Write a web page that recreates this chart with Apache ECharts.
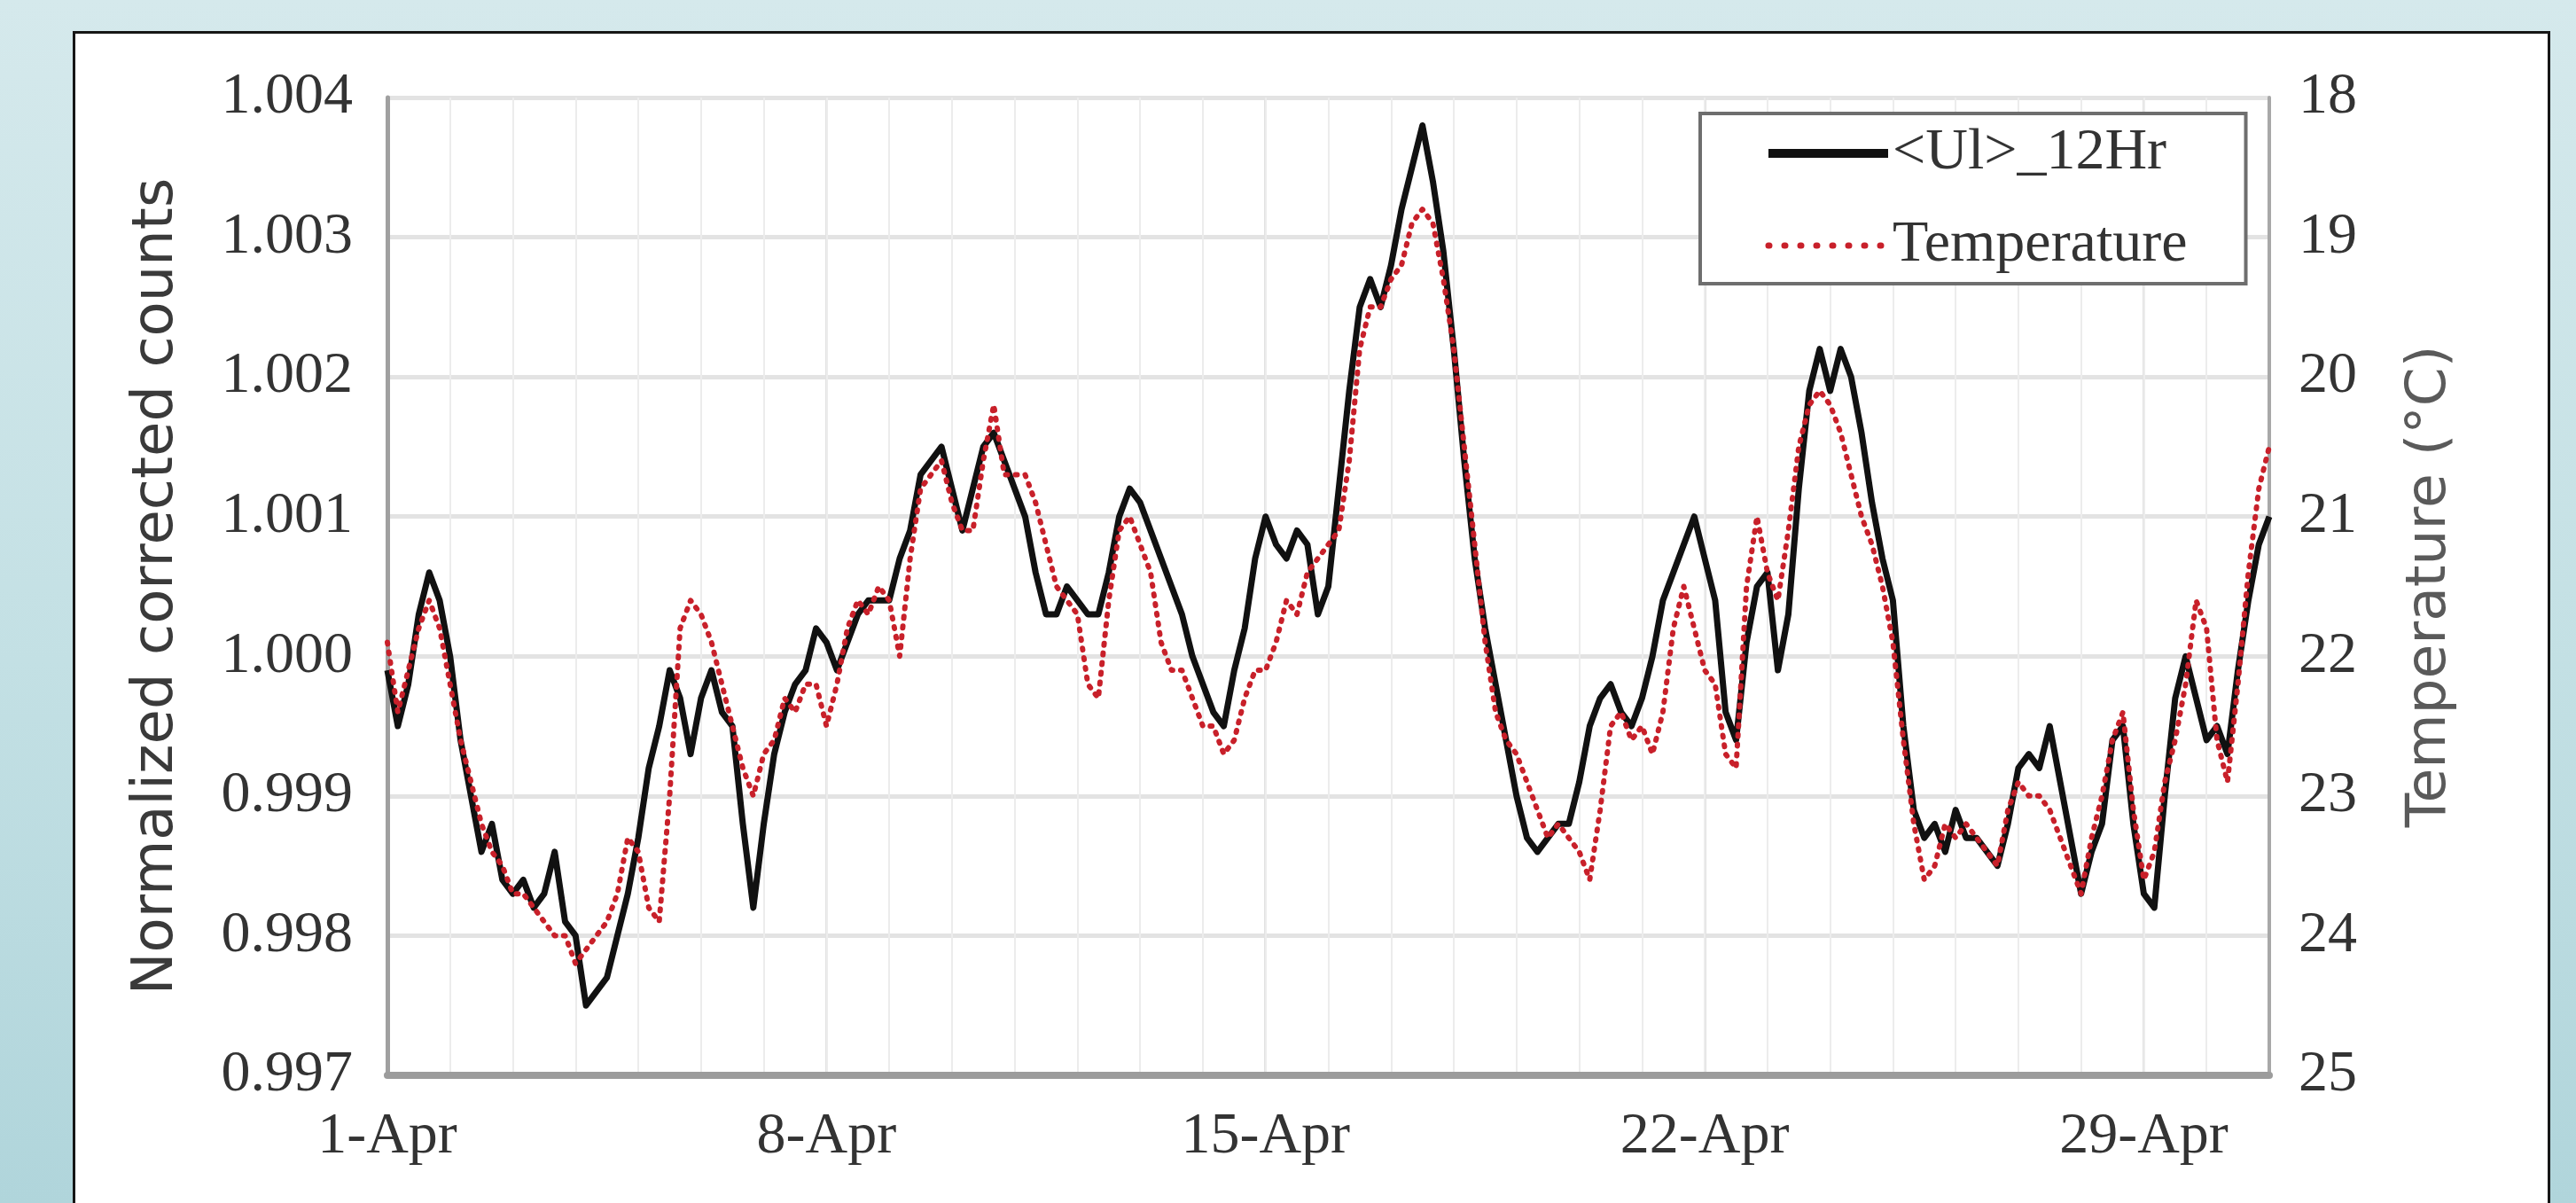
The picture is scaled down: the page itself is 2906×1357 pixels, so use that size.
<!DOCTYPE html>
<html>
<head>
<meta charset="utf-8">
<title>Normalized corrected counts and temperature, April</title>
<script src="https://cdn.jsdelivr.net/npm/echarts@6/dist/echarts.min.js"></script>
<style>
  html, body { margin: 0; padding: 0; width: 2906px; height: 1357px; overflow: hidden; }
  body { background: linear-gradient(180deg, #d5e9ec 0%, #c3e0e4 55%, #b0d5db 100%); position: relative; }
  #panel { position: absolute; left: 82px; top: 35px; width: 2789px; height: 1400px;
           background: #ffffff; border: 3px solid #161616; }
  #chart { position: absolute; left: 0; top: 0; width: 2906px; height: 1357px; }
</style>
</head>
<body>
<div id="panel"></div>
<div id="chart"></div>
<script>
// Samples every 4 hours starting 1 April 00:00
const stepHours = 4;

// 12-hour running mean of normalized corrected counts
const countsU = [
  0.9999, 0.9995, 0.9998, 1.0003, 1.0006, 1.0004, 1.0000, 0.9994, 0.9990, 0.9986,
  0.9988, 0.9984, 0.9983, 0.9984, 0.9982, 0.9983, 0.9986, 0.9981, 0.9980, 0.9975,
  0.9976, 0.9977, 0.9980, 0.9983, 0.9987, 0.9992, 0.9995, 0.9999, 0.9997, 0.9993,
  0.9997, 0.9999, 0.9996, 0.9995, 0.9988, 0.9982, 0.9988, 0.9993, 0.9996, 0.9998,
  0.9999, 1.0002, 1.0001, 0.9999, 1.0001, 1.0003, 1.0004, 1.0004, 1.0004, 1.0007,
  1.0009, 1.0013, 1.0014, 1.0015, 1.0012, 1.0009, 1.0012, 1.0015, 1.0016, 1.0014,
  1.0012, 1.0010, 1.0006, 1.0003, 1.0003, 1.0005, 1.0004, 1.0003, 1.0003, 1.0006,
  1.0010, 1.0012, 1.0011, 1.0009, 1.0007, 1.0005, 1.0003, 1.0000, 0.9998, 0.9996,
  0.9995, 0.9999, 1.0002, 1.0007, 1.0010, 1.0008, 1.0007, 1.0009, 1.0008, 1.0003,
  1.0005, 1.0012, 1.0019, 1.0025, 1.0027, 1.0025, 1.0028, 1.0032, 1.0035, 1.0038,
  1.0034, 1.0029, 1.0022, 1.0014, 1.0007, 1.0002, 0.9998, 0.9994, 0.9990, 0.9987,
  0.9986, 0.9987, 0.9988, 0.9988, 0.9991, 0.9995, 0.9997, 0.9998, 0.9996, 0.9995,
  0.9997, 1.0000, 1.0004, 1.0006, 1.0008, 1.0010, 1.0007, 1.0004, 0.9996, 0.9994,
  1.0001, 1.0005, 1.0006, 0.9999, 1.0003, 1.0012, 1.0019, 1.0022, 1.0019, 1.0022,
  1.0020, 1.0016, 1.0011, 1.0007, 1.0004, 0.9995, 0.9989, 0.9987, 0.9988, 0.9986,
  0.9989, 0.9987, 0.9987, 0.9986, 0.9985, 0.9988, 0.9992, 0.9993, 0.9992, 0.9995,
  0.9991, 0.9987, 0.9983, 0.9986, 0.9988, 0.9994, 0.9995, 0.9988, 0.9983, 0.9982,
  0.9990, 0.9997, 1.0000, 0.9997, 0.9994, 0.9995, 0.9993, 0.9999, 1.0004, 1.0008,
  1.0010
];

// Temperature in °C
const tempC = [
  21.9, 22.4, 22.1, 21.8, 21.6, 21.8, 22.2, 22.6, 22.9, 23.2,
  23.4, 23.5, 23.7, 23.7, 23.8, 23.9, 24.0, 24.0, 24.2, 24.1,
  24.0, 23.9, 23.7, 23.3, 23.4, 23.8, 23.9, 23.0, 21.8, 21.6,
  21.7, 21.9, 22.2, 22.5, 22.8, 23.0, 22.7, 22.6, 22.3, 22.4,
  22.2, 22.2, 22.5, 22.2, 21.8, 21.6, 21.7, 21.5, 21.6, 22.0,
  21.3, 20.8, 20.7, 20.6, 20.9, 21.1, 21.1, 20.6, 20.2, 20.7,
  20.7, 20.7, 20.9, 21.2, 21.5, 21.6, 21.7, 22.2, 22.3, 21.6,
  21.1, 21.0, 21.2, 21.4, 21.9, 22.1, 22.1, 22.3, 22.5, 22.5,
  22.7, 22.6, 22.3, 22.1, 22.1, 21.9, 21.6, 21.7, 21.4, 21.3,
  21.2, 21.1, 20.6, 19.8, 19.5, 19.5, 19.3, 19.2, 18.9, 18.8,
  18.9, 19.3, 19.8, 20.5, 21.2, 21.9, 22.4, 22.6, 22.7, 22.9,
  23.1, 23.3, 23.2, 23.3, 23.4, 23.6, 23.1, 22.5, 22.4, 22.6,
  22.5, 22.7, 22.4, 21.8, 21.5, 21.8, 22.1, 22.2, 22.7, 22.8,
  21.5, 21.0, 21.4, 21.6, 21.1, 20.5, 20.2, 20.1, 20.2, 20.4,
  20.7, 21.0, 21.2, 21.5, 21.9, 22.6, 23.2, 23.6, 23.5, 23.2,
  23.3, 23.2, 23.3, 23.4, 23.5, 23.1, 22.9, 23.0, 23.0, 23.1,
  23.3, 23.5, 23.7, 23.3, 23.0, 22.6, 22.4, 23.1, 23.6, 23.4,
  22.9, 22.6, 22.2, 21.6, 21.8, 22.6, 22.9, 22.2, 21.4, 20.8,
  20.5
];

// Axis tick labels
const dateLabels = ['1-Apr', '8-Apr', '15-Apr', '22-Apr', '29-Apr'];
const seriesNames = ['<Ul>_12Hr', 'Temperature'];

const serif = "'Liberation Serif', 'Times New Roman', serif";
const sans = "'DejaVu Sans', Verdana, sans-serif";

// day offset (days since 1 April) for each sample
const dayOf = i => (i * stepHours) / 24;
const countsData = countsU.map((v, i) => [dayOf(i), v]);
const tempData = tempC.map((v, i) => [dayOf(i), v]);

const chart = echarts.init(document.getElementById('chart'), null, { renderer: 'canvas' });

chart.setOption({
  animation: false,
  backgroundColor: 'transparent',
  grid: { left: 437, right: 346, top: 110, bottom: 144, containLabel: false },
  legend: {
    orient: 'vertical',
    left: 1918,
    top: 128,
    padding: [12, 66, 10, 72],
    itemGap: 38,
    itemWidth: 135,
    itemHeight: 14,
    backgroundColor: '#ffffff',
    borderColor: '#6e6e6e',
    borderWidth: 4,
    itemStyle: { opacity: 0 },
    textStyle: { fontFamily: serif, fontSize: 66, color: '#333333' },
    data: [
      { name: seriesNames[0], lineStyle: { width: 10, color: '#111111', type: 'solid' } },
      { name: seriesNames[1], lineStyle: { width: 7, color: '#c8202a', type: [1, 17], cap: 'round' } }
    ]
  },
  xAxis: [
    {
      type: 'value', min: 0, max: 30, interval: 7,
      axisLine: { show: true, onZero: false, lineStyle: { color: '#9c9c9c', width: 8 } },
      axisTick: { show: false },
      splitLine: { show: true, lineStyle: { color: '#e2e2e2', width: 3 } },
      axisLabel: {
        margin: 37,
        fontFamily: serif, fontSize: 66, color: '#333333',
        formatter: v => (v % 7 === 0 && v / 7 < dateLabels.length) ? dateLabels[v / 7] : ''
      }
    },
    {
      // daily grid lines
      type: 'value', min: 0, max: 30, interval: 1, position: 'top',
      axisLine: { show: false }, axisTick: { show: false }, axisLabel: { show: false },
      splitLine: { show: true, lineStyle: { color: '#ececec', width: 2 } }
    }
  ],
  yAxis: [
    {
      type: 'value', min: 0.997, max: 1.004, interval: 0.001,
      name: 'Normalized corrected counts',
      nameLocation: 'middle', nameRotate: 90, nameGap: 228,
      nameTextStyle: { fontFamily: sans, fontSize: 64, color: '#3a3a3a' },
      axisLine: { show: true, onZero: false, lineStyle: { color: '#a0a0a0', width: 5 } },
      axisTick: { show: false },
      splitLine: { show: true, lineStyle: { color: '#e3e3e3', width: 5 } },
      axisLabel: {
        margin: 39, fontFamily: serif, fontSize: 66, color: '#333333',
        formatter: v => v.toFixed(3)
      }
    },
    {
      type: 'value', min: 18, max: 25, interval: 1, inverse: true, position: 'right',
      name: 'Temperature (°C)',
      nameLocation: 'middle', nameRotate: 90, nameGap: 150,
      nameTextStyle: { fontFamily: sans, fontSize: 63, color: '#5a5a5a' },
      axisLine: { show: true, onZero: false, lineStyle: { color: '#a8a8a8', width: 4 } },
      axisTick: { show: false },
      splitLine: { show: false },
      axisLabel: { margin: 33, fontFamily: serif, fontSize: 66, color: '#333333' }
    }
  ],
  series: [
    {
      name: seriesNames[0], type: 'line', xAxisIndex: 0, yAxisIndex: 0,
      data: countsData, showSymbol: false, symbol: 'none', smooth: false,
      lineStyle: { color: '#111111', width: 7, join: 'round' },
      itemStyle: { color: '#111111' },
      z: 3
    },
    {
      name: seriesNames[1], type: 'line', xAxisIndex: 0, yAxisIndex: 1,
      data: tempData, showSymbol: false, symbol: 'none', smooth: false,
      lineStyle: { color: '#c8202a', width: 6, type: [2, 9], cap: 'round', join: 'round' },
      itemStyle: { color: '#c8202a' },
      z: 4
    }
  ]
});
</script>
</body>
</html>
